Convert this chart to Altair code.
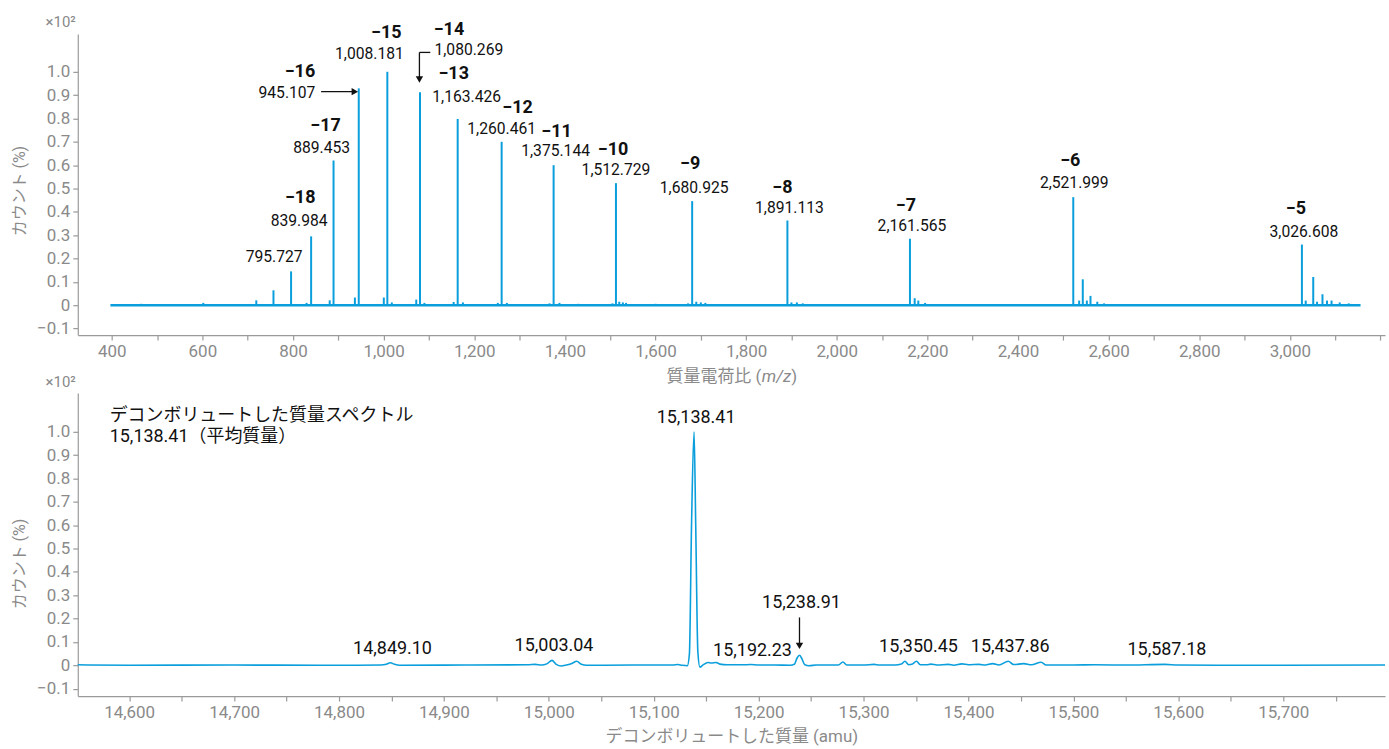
import altair as alt
import pandas as pd

BLUE = "#0a9fdc"
INK = "#111111"
GRAY = "#8a8a8a"
AXIS_GRAY = "#9a9a9a"
FONT = "Roboto, 'Noto Sans CJK JP', sans-serif"

# ---------------- m/z spectrum (centroided sticks, % x 10^2) ----------------
spectrum_range = [397, 3156]
peak_mz = [465, 602, 719, 756.9, 795.727, 830, 839.984, 881, 889.453, 936.6,
           945.107, 1000.4, 1008.181, 1018, 1072, 1080.269, 1090, 1154.5,
           1163.426, 1175, 1252, 1260.461, 1272, 1366, 1375.144, 1388, 1430,
           1505, 1512.729, 1520, 1528, 1535, 1600, 1672, 1680.925, 1690, 1700,
           1710, 1780, 1891.113, 1900, 1912, 1925, 2060, 2161.565, 2172, 2180,
           2195, 2330, 2521.999, 2535, 2543, 2552, 2560, 2575, 2590, 2800,
           3026.608, 3035, 3051.6, 3060, 3072, 3082, 3092, 3110, 3130]
peak_height = [0.006, 0.010, 0.021, 0.064, 0.145, 0.010, 0.295, 0.021, 0.620, 0.033,
               0.929, 0.033, 1.000, 0.012, 0.024, 0.912, 0.010, 0.014,
               0.798, 0.012, 0.010, 0.700, 0.010, 0.008, 0.600, 0.010, 0.006,
               0.008, 0.523, 0.015, 0.012, 0.010, 0.006, 0.008, 0.446, 0.015, 0.012,
               0.010, 0.005, 0.363, 0.012, 0.012, 0.008, 0.005, 0.285, 0.030, 0.020,
               0.010, 0.005, 0.463, 0.020, 0.111, 0.020, 0.040, 0.015, 0.008, 0.004,
               0.260, 0.020, 0.121, 0.015, 0.047, 0.020, 0.020, 0.012, 0.008]

# labelled peaks and their charge states
label_mz = ["795.727", "839.984", "889.453", "945.107", "1,008.181", "1,080.269",
            "1,163.426", "1,260.461", "1,375.144", "1,512.729", "1,680.925",
            "1,891.113", "2,161.565", "2,521.999", "3,026.608"]
label_charge = [None, -18, -17, -16, -15, -14, -13, -12, -11, -10, -9, -8, -7, -6, -5]

# ---------------- deconvoluted spectrum (profile trace) ----------------
mass = [14551, 14600, 14700, 14780, 14840, 14845, 14849.1, 14853, 14858, 14920,
        14980, 14987, 14993, 14998, 15003.04, 15007, 15012, 15018, 15022, 15026.6,
        15031, 15036, 15080, 15118, 15123, 15127, 15132, 15134, 15136, 15138.41,
        15140, 15142, 15144, 15147, 15151.7, 15155, 15159.4, 15163, 15170, 15185,
        15192.23, 15200, 15215, 15230, 15234, 15236.5, 15238.91, 15241, 15244, 15248,
        15255, 15276, 15280.3, 15284, 15300, 15310, 15315, 15330, 15336, 15339.4,
        15343, 15346, 15350.45, 15354, 15360, 15364, 15370, 15380.7, 15386, 15393.7,
        15400, 15410, 15416, 15423, 15429, 15437.86, 15443, 15452.7, 15460, 15469.2,
        15474, 15500, 15520, 15550, 15587.18, 15600, 15700, 15797]
intensity = [0.002, 0.000, 0.001, 0.000, 0.001, 0.004, 0.011, 0.004, 0.000, 0.001,
             0.002, 0.004, 0.001, 0.006, 0.021, 0.004, -0.003, 0.002, 0.008, 0.017,
             0.004, 0.000, 0.001, 0.001, 0.003, 0.000, -0.002, 0.050, 0.600, 1.000,
             0.600, 0.060, -0.008, 0.002, 0.012, 0.010, 0.012, 0.005, 0.002, 0.002,
             0.003, 0.001, 0.001, 0.000, 0.004, 0.030, 0.043, 0.030, 0.002, -0.002,
             0.001, 0.001, 0.014, 0.001, 0.001, 0.004, 0.001, 0.001, 0.005, 0.017,
             0.002, 0.004, 0.017, 0.002, 0.002, 0.005, 0.001, 0.004, 0.000, 0.006,
             0.002, 0.004, 0.001, 0.007, 0.001, 0.017, 0.003, 0.007, 0.002, 0.013,
             0.001, 0.001, 0.002, 0.001, 0.004, 0.001, 0.000, 0.001]

mass_labels = ["14,849.10", "15,003.04", "15,138.41", "15,192.23", "15,238.91",
               "15,350.45", "15,437.86", "15,587.18"]

# text nudges in pixels: (value dx, value dy, charge dx, charge dy), relative to peak tip
mz_nudge = {
    "795.727": (-17, -14, 0, 0), "839.984": (-12, -15, -11, -38),
    "889.453": (-12, -13, -8, -35), "945.107": (-72, 5, -59, -16),
    "1,008.181": (-18, -18, -1, -39), "1,080.269": (49, -42, 29, -63),
    "1,163.426": (9, -22, -4, -45), "1,260.461": (0, -13, 16, -34),
    "1,375.144": (2, -14, 3, -33), "1,512.729": (0, -13, -3, -33),
    "1,680.925": (2, -13, -2, -37), "1,891.113": (2, -13, -5, -33),
    "2,161.565": (2, -13, -4, -33), "2,521.999": (1, -14, -3, -36),
    "3,026.608": (2, -13, -6, -36),
}

TOP_DOMAIN = [325, 3210]
BOT_DOMAIN = [14551, 15797]
Y_TOP = [-0.128, 1.162]
Y_BOT = [-0.132, 1.167]
Y_TICKS = [round(v * 0.1, 1) for v in range(-1, 11)]
W, H_TOP, H_BOT = 1311, 302, 304

height_of = dict(zip(peak_mz, peak_height))
height_of_mass = dict(zip(mass, intensity))


def to_num(s):
    return float(s.replace(",", ""))


y_label_expr = "datum.value === 0 ? '0' : replace(format(datum.value, '.1f'), '-', '\u2212')"


def y_enc(field, domain, title_y):
    return alt.Y(field, type="quantitative",
                 scale=alt.Scale(domain=domain, nice=False, zero=False),
                 axis=alt.Axis(values=Y_TICKS, labelExpr=y_label_expr, title="カウント (%)",
                               titleX=-58, titleY=title_y, titleAlign="center",
                               titleBaseline="middle", titleAngle=-90, titleFontSize=16))


def x_top(field):
    return alt.X(field, type="quantitative",
                 scale=alt.Scale(domain=TOP_DOMAIN, nice=False, zero=False),
                 axis=alt.Axis(values=list(range(400, 3201, 100)),
                               labelExpr="datum.value % 200 === 0 && datum.value < 3200 ? format(datum.value, ',') : ''",
                               title=None))


def x_bot(field):
    return alt.X(field, type="quantitative",
                 scale=alt.Scale(domain=BOT_DOMAIN, nice=False, zero=False),
                 axis=alt.Axis(values=list(range(14600, 15800, 50)),
                               labelExpr="datum.value % 100 === 0 ? format(datum.value, ',') : ''",
                               title="デコンボリュートした質量 (amu)", titleY=41,
                               titleBaseline="middle", titleFontSize=17))


def pixel_text(text, x, y, size, color, align="left", style="normal", weight="normal"):
    return alt.Chart(pd.DataFrame({"t": [text]})).mark_text(
        font=FONT, fontSize=size, color=color, align=align, baseline="middle",
        fontStyle=style, fontWeight=weight).encode(
        x=alt.value(x), y=alt.value(y), text="t:N")


# ---------------- top panel ----------------
peaks = pd.DataFrame({"mz": peak_mz, "h": peak_height, "zero": 0.0})
sticks = alt.Chart(peaks).mark_rule(color=BLUE, strokeWidth=2).encode(
    x=x_top("mz"), y=y_enc("zero", Y_TOP, 157), y2="h")

baseline = alt.Chart(pd.DataFrame({"a": [spectrum_range[0]], "b": [spectrum_range[1]], "zero": [0.0]})) \
    .mark_rule(color=BLUE, strokeWidth=2.5).encode(x=x_top("a"), x2="b", y=y_enc("zero", Y_TOP, 157))

top_layers = [baseline, sticks]
for lab, z in zip(label_mz, label_charge):
    mz = to_num(lab)
    h = height_of[mz]
    dx, dy, zdx, zdy = mz_nudge[lab]
    row = pd.DataFrame({"mz": [mz], "h": [h], "t": [lab],
                        "z": ["\u2212" + str(abs(z)) if z is not None else ""]})
    top_layers.append(alt.Chart(row).mark_text(
        dx=dx, dy=dy, font=FONT, fontSize=15.7, color=INK, baseline="middle"
    ).encode(x=x_top("mz"), y=y_enc("h", Y_TOP, 157), text="t:N"))
    if z is not None:
        top_layers.append(alt.Chart(row).mark_text(
            dx=zdx, dy=zdy, font=FONT, fontSize=18, fontWeight="bold", color=INK, baseline="middle"
        ).encode(x=x_top("mz"), y=y_enc("h", Y_TOP, 157), text="z:N"))

# arrows pointing at 945.107 and 1,080.269
arrow_945 = pd.DataFrame({"x": [862.0], "x2": [935.0], "y": [0.915]})
top_layers.append(alt.Chart(arrow_945).mark_rule(color=INK, strokeWidth=1.3).encode(
    x=x_top("x"), x2="x2", y=y_enc("y", Y_TOP, 157)))
top_layers.append(alt.Chart(pd.DataFrame({"x": [936.5], "y": [0.915]})).mark_point(
    shape="triangle-right", filled=True, color=INK, size=55, opacity=1).encode(
    x=x_top("x"), y=y_enc("y", Y_TOP, 157)))

elbow_h = pd.DataFrame({"x": [1103.0], "x2": [1079.0], "y": [1.083]})
elbow_v = pd.DataFrame({"x": [1079.0], "y": [1.083], "y2": [0.975]})
top_layers.append(alt.Chart(elbow_h).mark_rule(color=INK, strokeWidth=1.3).encode(
    x=x_top("x"), x2="x2", y=y_enc("y", Y_TOP, 157)))
top_layers.append(alt.Chart(elbow_v).mark_rule(color=INK, strokeWidth=1.3).encode(
    x=x_top("x"), y=y_enc("y", Y_TOP, 157), y2="y2"))
top_layers.append(alt.Chart(pd.DataFrame({"x": [1079.0], "y": [0.967]})).mark_point(
    shape="triangle-down", filled=True, color=INK, size=55, opacity=1).encode(
    x=x_top("x"), y=y_enc("y", Y_TOP, 157)))

# axis caption with italic m/z, and the scale factor
cap_y = H_TOP + 42
cap_mid = W / 2 + 30
top_layers += [
    pixel_text("質量電荷比 (", cap_mid, cap_y, 17, GRAY, align="right"),
    pixel_text("m/z", cap_mid + 0.5, cap_y, 17, GRAY, align="left", style="italic"),
    pixel_text(")", cap_mid + 30, cap_y, 17, GRAY, align="left"),
    pixel_text("×10²", -2, -12, 15, GRAY, align="right"),
]

top = alt.layer(*top_layers).properties(width=W, height=H_TOP)

# ---------------- bottom panel ----------------
trace = pd.DataFrame({"mass": mass, "i": intensity})
line = alt.Chart(trace).mark_line(color=BLUE, strokeWidth=1.6, interpolate="monotone").encode(
    x=x_bot("mass"), y=y_enc("i", Y_BOT, 171))

bot_layers = [line]
for lab in mass_labels:
    m = to_num(lab)
    dy = -52 if lab == "15,238.91" else -14
    row = pd.DataFrame({"mass": [m], "i": [height_of_mass[m]], "t": [lab]})
    bot_layers.append(alt.Chart(row).mark_text(
        dx=2, dy=dy, font=FONT, fontSize=18, color=INK, baseline="middle").encode(
        x=x_bot("mass"), y=y_enc("i", Y_BOT, 171), text="t:N"))

arrow_238 = pd.DataFrame({"mass": [15238.91], "y": [0.205], "y2": [0.09]})
bot_layers.append(alt.Chart(arrow_238).mark_rule(color=INK, strokeWidth=1.3).encode(
    x=x_bot("mass"), y=y_enc("y", Y_BOT, 171), y2="y2"))
bot_layers.append(alt.Chart(pd.DataFrame({"mass": [15238.91], "y": [0.083]})).mark_point(
    shape="triangle-down", filled=True, color=INK, size=55, opacity=1).encode(
    x=x_bot("mass"), y=y_enc("y", Y_BOT, 171)))

notes_title = ["デコンボリュートした質量スペクトル", "15,138.41（平均質量）"]
bot_layers += [
    pixel_text(notes_title[0], 32, 23, 18, INK),
    pixel_text(notes_title[1], 32, 44, 18, INK),
    pixel_text("×10²", -2, -11, 15, GRAY, align="right"),
]

bottom = alt.layer(*bot_layers).properties(width=W, height=H_BOT)

chart = alt.vconcat(top, bottom, spacing=58, bounds="flush").properties(
    padding={"left": 12, "top": 14, "right": 0, "bottom": 0},
).configure_view(stroke=None).configure_axis(
    labelFont=FONT, titleFont=FONT, labelFontSize=17,
    titleFontWeight="normal", labelColor=GRAY, titleColor=GRAY,
    domainColor=AXIS_GRAY, tickColor=AXIS_GRAY, tickSize=5, labelPadding=3,
    grid=False, domainWidth=1.2, tickWidth=1.2,
)

chart.save("out.html", embed_options={"renderer": "svg", "actions": False})
